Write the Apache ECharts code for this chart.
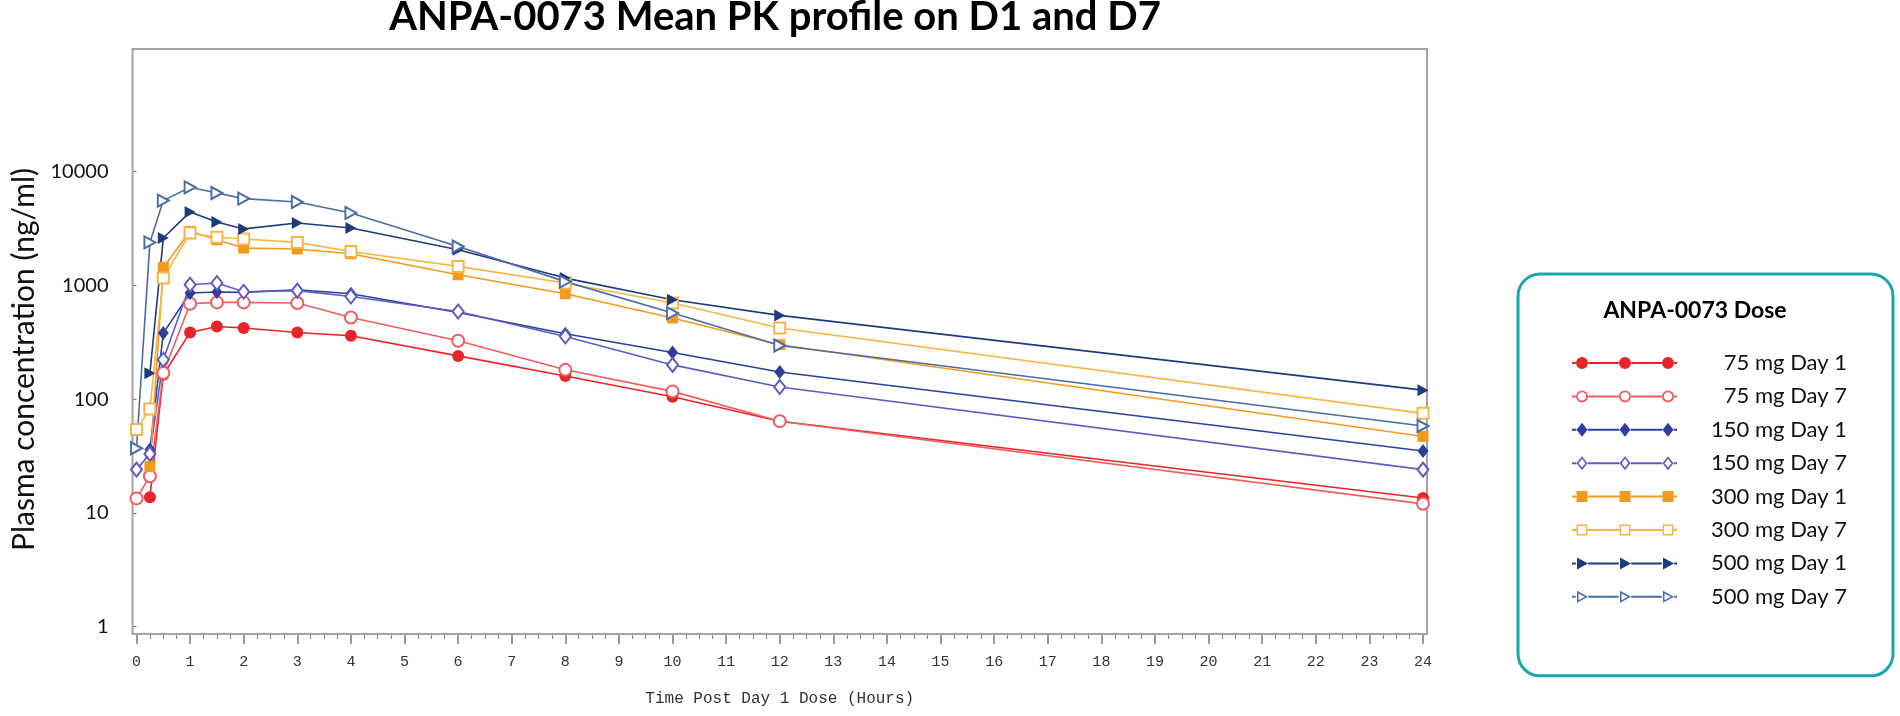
<!DOCTYPE html>
<html>
<head>
<meta charset="utf-8">
<script src="https://cdn.jsdelivr.net/npm/echarts@6/dist/echarts.min.js"></script>
<style>
  html, body { margin: 0; padding: 0; background: #ffffff; }
  #chart { width: 1900px; height: 716px; }
</style>
</head>
<body>
<div id="chart"></div>
<script>
// ---------------- DATA ----------------
const times = [0, 0.25, 0.5, 1, 1.5, 2, 3, 4, 6, 8, 10, 12, 24];
const seriesNames = ['75 mg Day 1', '75 mg Day 7', '150 mg Day 1', '150 mg Day 7',
                     '300 mg Day 1', '300 mg Day 7', '500 mg Day 1', '500 mg Day 7'];
const mg75d1  = [null, 13.7, 164, 386, 435, 422, 386, 361, 240, 160, 105, 64, 13.5];
const mg75d7  = [13.4, 21, 170, 690, 709, 709, 700, 523, 326, 181, 117, 64, 12];
const mg150d1 = [null, 36, 381, 857, 875, 869, 917, 845, 578, 376, 257, 173, 35];
const mg150d7 = [24, 33, 222, 1015, 1050, 880, 900, 800, 590, 356, 200, 128, 24];
const mg300d1 = [null, 25.5, 1440, 2990, 2520, 2130, 2090, 1900, 1240, 845, 517, 301, 47];
const mg300d7 = [54, 82, 1160, 2890, 2650, 2560, 2390, 1990, 1470, 1050, 700, 422, 75];
const mg500d1 = [null, 169, 2610, 4430, 3610, 3140, 3540, 3200, 2060, 1160, 748, 545, 120];
const mg500d7 = [37, 2390, 5570, 7290, 6500, 5800, 5420, 4340, 2200, 1080, 571, 296, 58];
const yTickValues = [1, 10, 100, 1000, 10000];
const titleText = 'ANPA-0073 Mean PK profile on D1 and D7';
const legendTitle = 'ANPA-0073 Dose';
const xAxisTitle = 'Time Post Day 1 Dose (Hours)';
const yAxisTitle = 'Plasma concentration (ng/ml)';

// ---------------- STYLE ----------------
const allValues = [mg75d1, mg75d7, mg150d1, mg150d7, mg300d1, mg300d7, mg500d1, mg500d7];
const colors = ['#e8242a', '#ef5d5f', '#2c3f9e', '#5c5cc4', '#f29a1d', '#f7b548', '#1d3a7c', '#4c6ca6'];
const shapes = ['circle', 'circle', 'diamond', 'diamond', 'rect', 'rect', 'triangle', 'triangle'];
const filled = [true, false, true, false, true, false, true, false];
const symSizes = {circle: 12, diamond: [11, 14], rect: 11, triangle: [12, 11]};

const G = {left: 136.5, right: 477, top: 49, bottom: 82};
const PLOT_RIGHT = 1900 - G.right;
const PLOT_BOTTOM = 716 - G.bottom;

// Legend icon: line with three markers
function legendPath(shape, isFilled) {
  const W = 105, cy = 7, cxs = [10, 53, 96];
  let half, parts = [];
  if (shape === 'circle') half = 6;
  else if (shape === 'diamond') half = 5.5;
  else if (shape === 'rect') half = 5.5;
  else half = 6;
  const edges = [0];
  cxs.forEach(c => { edges.push(c - half - 0.2); edges.push(c + half + 0.2); });
  edges.push(W);
  for (let i = 0; i < edges.length; i += 2) {
    const a = edges[i], b = edges[i + 1];
    if (b > a) parts.push(`M${a},${cy - 1}L${b},${cy - 1}L${b},${cy + 1}L${a},${cy + 1}Z`);
  }
  cxs.forEach(c => {
    if (shape === 'circle') {
      const r = 6, ri = 4.2;
      parts.push(`M${c - r},${cy}A${r},${r} 0 1,1 ${c + r},${cy}A${r},${r} 0 1,1 ${c - r},${cy}Z`);
      if (!isFilled) parts.push(`M${c - ri},${cy}A${ri},${ri} 0 1,0 ${c + ri},${cy}A${ri},${ri} 0 1,0 ${c - ri},${cy}Z`);
    } else if (shape === 'diamond') {
      const w = 5.5, h = 7, s = 0.62;
      parts.push(`M${c},${cy - h}L${c + w},${cy}L${c},${cy + h}L${c - w},${cy}Z`);
      if (!isFilled) parts.push(`M${c},${cy - h * s}L${c - w * s},${cy}L${c},${cy + h * s}L${c + w * s},${cy}Z`);
    } else if (shape === 'rect') {
      const a = 5.5, ai = 3.9;
      parts.push(`M${c - a},${cy - a}L${c + a},${cy - a}L${c + a},${cy + a}L${c - a},${cy + a}Z`);
      if (!isFilled) parts.push(`M${c - ai},${cy - ai}L${c - ai},${cy + ai}L${c + ai},${cy + ai}L${c + ai},${cy - ai}Z`);
    } else {
      const bx = c - 5, tx = c + 6, h = 6;
      parts.push(`M${bx},${cy - h}L${tx},${cy}L${bx},${cy + h}Z`);
      if (!isFilled) parts.push(`M${bx + 1.5},${cy - h + 2.6}L${bx + 1.5},${cy + h - 2.6}L${tx - 3.2},${cy}Z`);
    }
  });
  return 'path://' + parts.join('');
}

const series = seriesNames.map((name, i) => {
  const shape = shapes[i];
  const emptyName = 'empty' + (shape === 'rect' ? 'Rect' : shape.charAt(0).toUpperCase() + shape.slice(1));
  return {
    name: name,
    type: 'line',
    data: times.map((t, k) => allValues[i][k] == null ? null : [t, allValues[i][k]]).filter(d => d),
    symbol: filled[i] ? shape : emptyName,
    symbolSize: symSizes[shape],
    symbolRotate: shape === 'triangle' ? -90 : 0,
    showAllSymbol: true,
    color: colors[i],
    lineStyle: {color: colors[i], width: 1.6},
    itemStyle: {color: colors[i], borderColor: colors[i], borderWidth: filled[i] ? 0 : 1.6},
    emphasis: {disabled: true},
    animation: false,
    z: 3
  };
});

const legendData = seriesNames.map((name, i) => ({name: name, icon: legendPath(shapes[i], filled[i])}));

const option = {
  backgroundColor: '#ffffff',
  animation: false,
  title: [
    {
      text: titleText, left: 775, top: -3, padding: 0, textAlign: 'center',
      textStyle: {fontFamily: 'Lato', fontWeight: 'bold', fontSize: 40, color: '#000'}
    },
    {
      text: legendTitle, left: 1695, top: 299, padding: 0, textAlign: 'center',
      textStyle: {fontFamily: 'Lato', fontWeight: 'bold', fontSize: 23, color: '#000'}
    }
  ],
  grid: {left: G.left, right: G.right, top: G.top, bottom: G.bottom, containLabel: false},
  xAxis: {
    type: 'value', min: 0, max: 24, interval: 1,
    name: xAxisTitle, nameLocation: 'middle', nameGap: 57,
    nameTextStyle: {fontFamily: 'Liberation Mono', fontSize: 16, color: '#333'},
    axisLine: {show: false},
    axisTick: {show: true, length: 10, lineStyle: {color: '#7a7a7a', width: 1.5}},
    minorTick: {show: true, splitNumber: 4, length: 5, lineStyle: {color: '#8a8a8a', width: 1.2}},
    axisLabel: {margin: 21, fontFamily: 'Liberation Mono', fontSize: 15, color: '#333'},
    splitLine: {show: false}
  },
  yAxis: {
    type: 'log', logBase: 10, min: 0.86, max: 120000, offset: 4,
    name: yAxisTitle, nameLocation: 'middle', nameGap: 86,
    nameTextStyle: {fontFamily: 'Lato', fontSize: 30, color: '#111', padding: [0, 36, 0, 0]},
    axisLine: {show: false},
    axisTick: {show: true, length: 4, customValues: yTickValues, lineStyle: {color: '#7a7a7a', width: 1.2}},
    axisLabel: {margin: 24, customValues: yTickValues, fontFamily: 'Lato', fontSize: 20, color: '#111',
                formatter: v => String(Math.round(v))},
    splitLine: {show: false},
    minorTick: {show: false}
  },
  legend: {
    orient: 'vertical',
    left: 1518, top: 274,
    padding: [78, 46, 68, 54],
    borderColor: '#1aa6ad', borderWidth: 3, borderRadius: 22,
    backgroundColor: '#ffffff',
    itemWidth: 105, itemHeight: 14, itemGap: 11.4,
    symbolKeepAspect: true,
    selectedMode: false,
    itemStyle: {borderWidth: 0},
    formatter: '{t|{name}}',
    textStyle: {
      rich: {t: {width: 165, align: 'right', fontFamily: 'Lato', fontSize: 22, lineHeight: 22, color: '#111'}}
    },
    data: legendData
  },
  graphic: [{
    type: 'rect', silent: true, z: 1,
    shape: {x: G.left - 4, y: G.top, width: PLOT_RIGHT + 4 - (G.left - 4), height: PLOT_BOTTOM - G.top},
    style: {fill: 'none', stroke: '#a3a3a3', lineWidth: 2}
  }],
  series: series
};

const chart = echarts.init(document.getElementById('chart'), null, {renderer: 'canvas'});
chart.setOption(option);
</script>
</body>
</html>
